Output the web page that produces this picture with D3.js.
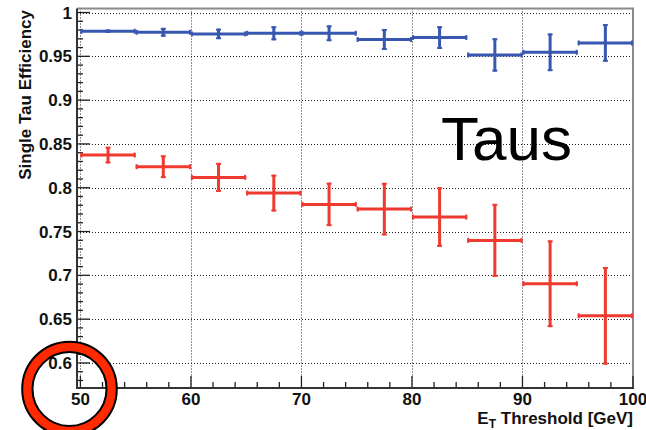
<!DOCTYPE html>
<html><head><meta charset="utf-8">
<script src="https://cdn.jsdelivr.net/npm/d3@7"></script>
<style>body{margin:0;background:#fff;} svg{display:block;font-family:"Liberation Sans",Arial,Helvetica,sans-serif;}</style>
</head><body><svg id="c" width="646" height="430"></svg>
<script>
// ---- data ----
const binLow = [50,55,60,65,70,75,80,85,90,95];
const binWidth = 5;
const blueEff = [0.9786,0.9775,0.9756,0.9763,0.9763,0.9692,0.9714,0.9516,0.9546,0.9653];
const blueErr = [0.002,0.005,0.006,0.008,0.009,0.012,0.013,0.019,0.0215,0.0215];
const redEff  = [0.8373,0.8240,0.8118,0.7939,0.7810,0.7756,0.7665,0.7399,0.6904,0.6538];
const redErr  = [0.0095,0.013,0.0166,0.021,0.0248,0.030,0.034,0.0417,0.0495,0.0557];
const xTicks = [50,60,70,80,90,100];
const yTicks = [0.6,0.65,0.7,0.75,0.8,0.85,0.9,0.95,1];
const xMinor = d3.range(50,101,2);
const yMinor = d3.range(58,101,1).map(v=>v/100);
const yLabel = "Single Tau Efficiency";
const annotation = "Taus";

// ---- layout ----
const svg = d3.select("#c");
const x = d3.scaleLinear().domain([50,100]).range([80.4,633]);
const y = d3.scaleLinear().domain([0.5714,1.0046]).range([388,8.5]);
const axX = 77, axY = 388, topY = 8.5, rightX = 633;

// grid
const g = svg.append("g");
g.selectAll("line.gx").data(xTicks.filter(v=>v<100)).enter().append("line")
  .attr("x1",d=>Math.round(x(d))+0.5).attr("x2",d=>Math.round(x(d))+0.5)
  .attr("y1",topY).attr("y2",axY)
  .attr("stroke","#222").attr("stroke-width",1).attr("stroke-dasharray","1,2");
g.selectAll("line.gy").data(yTicks).enter().append("line")
  .attr("y1",d=>Math.round(y(d))+0.5).attr("y2",d=>Math.round(y(d))+0.5)
  .attr("x1",axX).attr("x2",rightX)
  .attr("stroke","#222").attr("stroke-width",1).attr("stroke-dasharray","1,2");

// frame (top/right gray)
svg.append("path").attr("d",`M${axX},${topY}H${rightX}V${axY}`)
  .attr("fill","none").attr("stroke","#8a8a8a").attr("stroke-width",2);

// ticks
svg.selectAll("line.ymin").data(yMinor).enter().append("line")
  .attr("x1",axX).attr("x2",d=>axX+(yTicks.some(t=>Math.abs(t-d)<1e-6)?13:6))
  .attr("y1",d=>y(d)).attr("y2",d=>y(d)).attr("stroke","#222").attr("stroke-width",1.3);
svg.selectAll("line.xmin").data(xMinor).enter().append("line")
  .attr("y1",axY).attr("y2",d=>axY-(d%10===0?12:6))
  .attr("x1",d=>x(d)).attr("x2",d=>x(d)).attr("stroke","#222").attr("stroke-width",1.3);

// axes lines
svg.append("line").attr("x1",axX).attr("x2",axX).attr("y1",topY).attr("y2",axY+1)
  .attr("stroke","#333").attr("stroke-width",2);
svg.append("line").attr("x1",axX).attr("x2",rightX+1).attr("y1",axY).attr("y2",axY)
  .attr("stroke","#333").attr("stroke-width",2);

// tick labels
svg.selectAll("text.yl").data(yTicks).enter().append("text")
  .attr("x",72).attr("y",d=>y(d)).attr("dy","0.36em").attr("text-anchor","end")
  .attr("font-size",17).attr("font-weight","bold").attr("fill","#111")
  .text(d=>d3.format("~g")(d));
svg.selectAll("text.xl").data(xTicks).enter().append("text")
  .attr("x",d=>x(d)).attr("y",405).attr("text-anchor","middle")
  .attr("font-size",17).attr("font-weight","bold").attr("fill","#111")
  .text(d=>d);

// axis titles
svg.append("text").attr("transform","translate(30.5,10) rotate(-90)")
  .attr("text-anchor","end").attr("font-size",17).attr("font-weight","bold").attr("fill","#111")
  .text(yLabel);
const xt = svg.append("text").attr("x",rightX).attr("y",424).attr("text-anchor","end")
  .attr("font-size",17).attr("font-weight","bold").attr("fill","#111");
xt.append("tspan").text("E");
xt.append("tspan").attr("font-size",12).attr("dy",4).text("T");
xt.append("tspan").attr("dy",-4).text(" Threshold [GeV]");

// data series
function drawSeries(vals, errs, color){
  const gs = svg.append("g").attr("stroke",color).attr("stroke-width",3).attr("fill","none");
  binLow.forEach((lo,i)=>{
    const x0 = x(lo), x1 = x(lo+binWidth), xc = x(lo+binWidth/2);
    const yc = y(vals[i]), yt = y(vals[i]+errs[i]), yb = y(vals[i]-errs[i]);
    gs.append("line").attr("x1",x0).attr("x2",x1).attr("y1",yc).attr("y2",yc);
    gs.append("line").attr("x1",xc).attr("x2",xc).attr("y1",yt).attr("y2",yb);
    // caps
    gs.append("line").attr("x1",x0+1).attr("x2",x0+1).attr("y1",yc-2.5).attr("y2",yc+2.5).attr("stroke-width",2);
    gs.append("line").attr("x1",x1-1).attr("x2",x1-1).attr("y1",yc-2.5).attr("y2",yc+2.5).attr("stroke-width",2);
    gs.append("line").attr("x1",xc-2.5).attr("x2",xc+2.5).attr("y1",yt+1).attr("y2",yt+1).attr("stroke-width",2);
    gs.append("line").attr("x1",xc-2.5).attr("x2",xc+2.5).attr("y1",yb-1).attr("y2",yb-1).attr("stroke-width",2);
  });
}
drawSeries(blueEff, blueErr, "#3857b0");
drawSeries(redEff, redErr, "#ef3a2f");

// annotation
svg.append("text").attr("x",441).attr("y",160).attr("font-size",62).attr("fill","#000")
  .text(annotation);

// red highlight ring
const ring = svg.append("g");
ring.append("circle").attr("cx",69.5).attr("cy",389).attr("r",42.2)
  .attr("fill","none").attr("stroke","#ff2a00").attr("stroke-width",10.5);
ring.append("circle").attr("cx",69.5).attr("cy",389).attr("r",47.3)
  .attr("fill","none").attr("stroke","#000").attr("stroke-width",2);
ring.append("circle").attr("cx",69.5).attr("cy",389).attr("r",37)
  .attr("fill","none").attr("stroke","#000").attr("stroke-width",2);
</script>
</body></html>
